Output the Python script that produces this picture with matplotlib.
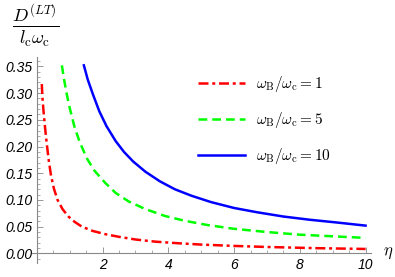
import numpy as np
import matplotlib
matplotlib.use("Agg")
import matplotlib.pyplot as plt
from matplotlib.ticker import MultipleLocator, FormatStrFormatter

plt.rcParams['mathtext.fontset'] = 'cm'

# values (eta, D/(l_c w_c))
eta_1 = [0.15, 0.17, 0.20, 0.25, 0.30, 0.36, 0.43, 0.52, 0.63, 0.78, 0.96, 1.15, 1.37,
         1.7, 2.08, 2.5, 3.0, 3.6, 4.3, 5.0, 6.0, 7.0, 8.5, 10.0]
d_1 = [0.317, 0.292, 0.268, 0.235, 0.206, 0.175, 0.146, 0.121, 0.100, 0.083, 0.069, 0.059, 0.050,
       0.042, 0.036, 0.031, 0.026, 0.022, 0.019, 0.0165, 0.014, 0.012, 0.0098, 0.0083]

eta_5 = [0.76, 0.83, 0.91, 1.0, 1.14, 1.3, 1.52, 1.75, 2.08, 2.4, 2.8, 3.3, 3.9, 4.5,
         5.2, 6.0, 7.0, 8.0, 9.0, 10.0]
d_5 = [0.352, 0.325, 0.298, 0.272, 0.238, 0.209, 0.178, 0.155, 0.132, 0.113, 0.097, 0.083, 0.070, 0.061,
       0.053, 0.046, 0.040, 0.035, 0.032, 0.029]

eta_10 = [1.43, 1.55, 1.71, 1.9, 2.12, 2.4, 2.65, 2.93, 3.3, 3.74, 4.2, 4.7, 5.3, 6.0,
          6.7, 7.5, 8.3, 9.1, 10.0]
d_10 = [0.352, 0.325, 0.297, 0.266, 0.238, 0.210, 0.190, 0.172, 0.153, 0.135, 0.120, 0.108, 0.096, 0.085,
        0.077, 0.069, 0.063, 0.058, 0.052]

labels = [r'$\omega_{\rm B}/\omega_{\rm c}=1$', r'$\omega_{\rm B}/\omega_{\rm c}=5$',
          r'$\omega_{\rm B}/\omega_{\rm c}=10$']

fig = plt.figure(figsize=(3.95, 2.77), dpi=100)
ax = fig.add_axes([0.080, 0.0505, 0.858, 0.7425])

ax.plot(eta_1, d_1, color=(1, 0, 0), lw=1.8, dashes=(4, 1.5, 1.2, 1.5), label=labels[0])
ax.plot(eta_5, d_5, color=(0, 1, 0), lw=1.8, dashes=(3.5, 2), label=labels[1])
ax.plot(eta_10, d_10, color=(0, 0, 1), lw=1.8, label=labels[2])

ax.set_xlim(-0.16, 10.15)
ax.set_ylim(-0.018, 0.367)

for s in ['top', 'right']:
    ax.spines[s].set_visible(False)
for s in ['left', 'bottom']:
    ax.spines[s].set_position(('data', 0))
    ax.spines[s].set_color('#888888')
    ax.spines[s].set_linewidth(0.8)

ax.xaxis.set_major_locator(MultipleLocator(2))
ax.xaxis.set_minor_locator(MultipleLocator(0.5))
ax.yaxis.set_major_locator(MultipleLocator(0.05))
ax.yaxis.set_minor_locator(MultipleLocator(0.01))
ax.yaxis.set_major_formatter(FormatStrFormatter('%.2f'))
ax.set_xticks([2, 4, 6, 8, 10])
ax.tick_params(which='major', direction='in', length=4, width=0.6, color='#888888', pad=3)
ax.tick_params(which='minor', direction='in', length=2, width=0.5, color='#888888')
for lab in ax.get_xticklabels() + ax.get_yticklabels():
    lab.set_fontstyle('italic')
    lab.set_fontsize(10)
    lab.set_family('Liberation Sans')

leg = ax.legend(loc='upper left', bbox_to_anchor=(198/395, 1 - 74/277), bbox_transform=fig.transFigure,
                frameon=False, fontsize=11, handlelength=3.1, handletextpad=0.7,
                labelspacing=1.05, borderpad=0, borderaxespad=0)

fig.text(36/395, 1 - 26/277, r'$\frac{D^{(LT)}}{l_{\rm c}\omega_{\rm c}}$', fontsize=19,
         ha='center', va='center')
fig.text(388/395, 1 - 252/277, r'$\eta$', fontsize=12, ha='center', va='center')

fig.savefig('out.png', dpi=100)
